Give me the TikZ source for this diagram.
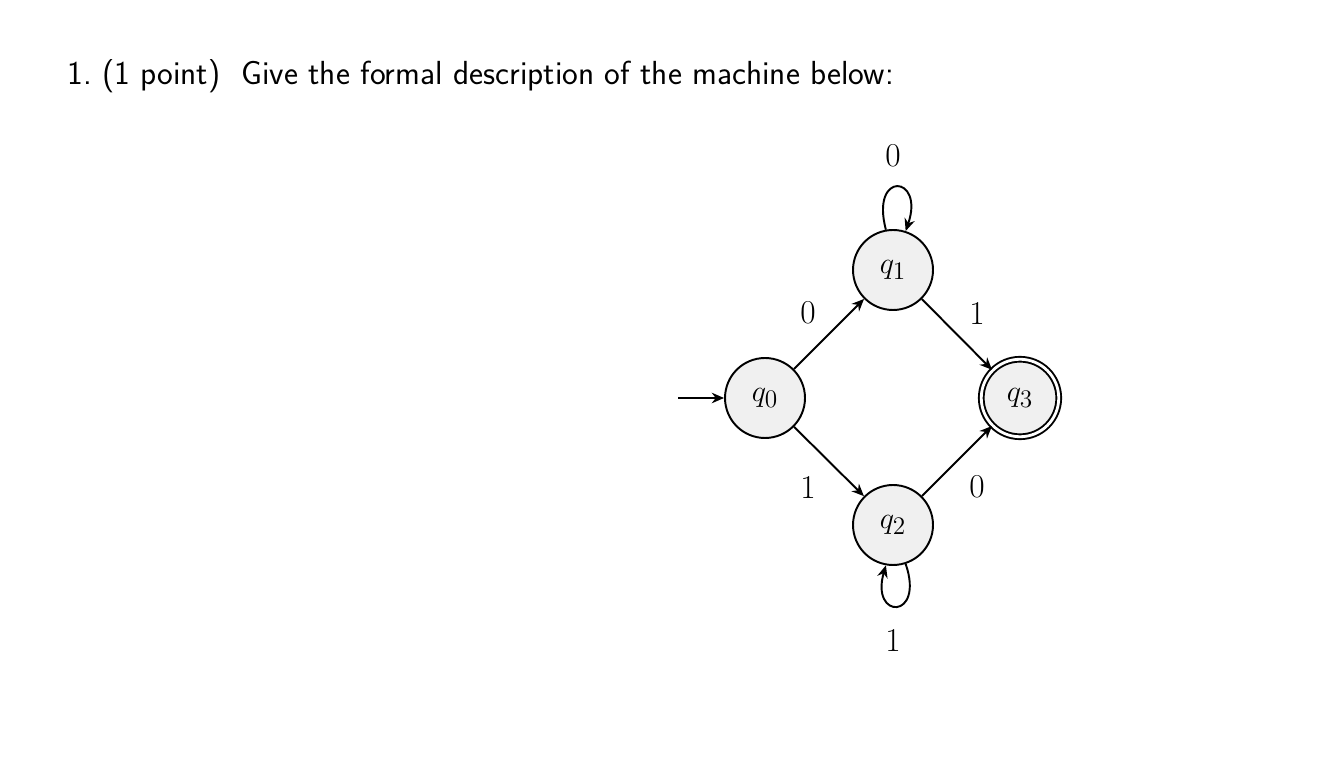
\documentclass[tikz,border=0pt]{standalone}
\usetikzlibrary{arrows.meta,automata}
\begin{document}
\begin{tikzpicture}[x=0.02cm,y=-0.02cm,
  every node/.style={font=\fontsize{19}{23}\selectfont},
  st/.style={circle,draw,line width=1.1pt,fill=gray!12,minimum size=1.6cm,inner sep=0pt},
  acc/.style={st,double,double distance=1.6pt,minimum size=1.55cm},
  ed/.style={-{Stealth[length=7pt,width=6pt]},line width=1.1pt},
  lbl/.style={inner sep=0pt}]
\useasboundingbox (0,0) rectangle (1322,766);
\node[anchor=base west,inner sep=0pt,font=\fontsize{19}{23}\selectfont\sffamily] (h) at (67,85) {1.\ (1 point)\ \ Give the formal description of the machine below:};
\node[st] (q0) at (765,398) {$q_0$};
\node[st] (q1) at (893,270) {$q_1$};
\node[st] (q2) at (893,525) {$q_2$};
\node[acc] (q3) at (1020,398) {$q_3$};
\coordinate (s) at (678,398);
\draw[ed] (s) -- (q0);
\draw[ed] (q0) -- (q1);
\draw[ed] (q0) -- (q2);
\draw[ed] (q1) -- (q3);
\draw[ed] (q2) -- (q3);
\draw[ed] (q1.100) .. controls (870,170) and (925,175) .. (q1.72);
\draw[ed] (q2.-72) .. controls (925,620) and (870,620) .. (q2.-100);
\node[lbl] (l1) at (893,156) {0};
\node[lbl] (l2) at (808,313) {0};
\node[lbl] (l3) at (977,313) {1};
\node[lbl] (l4) at (808,487) {1};
\node[lbl] (l5) at (977,487) {0};
\node[lbl] (l6) at (893,640) {1};
\end{tikzpicture}
\end{document}
